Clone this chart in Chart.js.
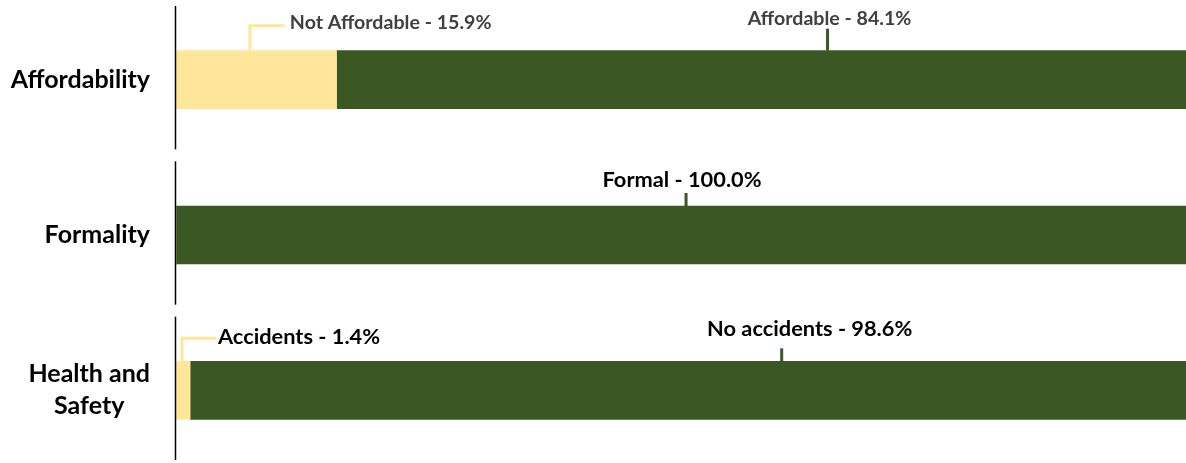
<!DOCTYPE html>
<html>
<head>
<meta charset="utf-8">
<script src="https://cdn.jsdelivr.net/npm/chart.js@4.4.1/dist/chart.umd.min.js"></script>
<style>
  html,body{margin:0;padding:0;background:#fff;overflow:hidden;}
  #wrap{width:1186px;height:470px;}
</style>
</head>
<body>
<div id="wrap"><canvas id="myChart" width="1186" height="470"></canvas></div>
<script>
// data
var categories = [['Affordability'], ['Formality'], ['Health and', 'Safety']];
var lowValues = [15.9, 0, 1.4];
var highValues = [84.1, 100.0, 98.6];
var lowNames = ['Not Affordable', null, 'Accidents'];
var highNames = ['Affordable', 'Formal', 'No accidents'];

var YELLOW = '#FFE699';
var GREEN = '#3A5724';
var FONT = 'Lato, "Open Sans", sans-serif';

// label placement (fraction along its segment), text shift, size and colour per row
var lowLabelAt = [0.46, 0, 0.45];
var highLabelAt = [0.578, 0.505, 0.594];
var highTextShift = [2, -4, 28];
var labelSize = [19.6, 21.8, 21.8];
var labelColor = ['#404040', '#000000', '#000000'];

var decor = {
  id: 'decor',
  afterDatasetsDraw: function(chart) {
    var ctx = chart.ctx;
    var area = chart.chartArea;
    var x = chart.scales.x, y = chart.scales.y;
    var slot = (area.bottom - area.top) / categories.length;
    ctx.save();

    // broken axis line, one piece per category
    ctx.strokeStyle = '#000';
    ctx.lineWidth = 1.5;
    for (var i = 0; i < categories.length; i++) {
      var top = area.top + slot * i;
      ctx.beginPath();
      ctx.moveTo(area.left - 0.5, top + 4);
      ctx.lineTo(area.left - 0.5, top + slot - 8);
      ctx.stroke();
    }

    // category names
    ctx.font = 'bold 25px ' + FONT;
    ctx.fillStyle = '#000';
    ctx.textAlign = 'center';
    ctx.textBaseline = 'middle';
    categories.forEach(function(lines, i) {
      var cy = y.getPixelForValue(i);
      var w = Math.max.apply(null, lines.map(function(s){ return ctx.measureText(s).width; }));
      var cx = 150 - w / 2;
      lines.forEach(function(s, k) {
        ctx.fillText(s, cx, cy + (k - (lines.length - 1) / 2) * 32);
      });
    });

    // data labels with leader lines
    ctx.textBaseline = 'middle';
    ctx.lineWidth = 3;
    for (var i = 0; i < categories.length; i++) {
      var bt = y.getPixelForValue(i) - 29;
      var small = lowValues[i] < 5;
      ctx.font = 'bold ' + labelSize[i] + 'px ' + FONT;
      if (lowNames[i] && lowValues[i] > 0) {
        var lx = small ? x.getPixelForValue(0) + 6 : x.getPixelForValue(lowValues[i] * lowLabelAt[i]);
        var ly = small ? bt - 23 : bt - 25;
        ctx.strokeStyle = YELLOW;
        ctx.beginPath();
        ctx.moveTo(lx, bt);
        ctx.lineTo(lx, ly);
        ctx.lineTo(lx + (small ? 34 : 35), ly);
        ctx.stroke();
        ctx.fillStyle = labelColor[i];
        ctx.textAlign = 'left';
        ctx.fillText(lowNames[i] + ' - ' + lowValues[i].toFixed(1) + '%', lx + (small ? 36 : 40), ly - (small ? 1 : 3));
      }
      var hx = x.getPixelForValue(lowValues[i] + highValues[i] * highLabelAt[i]);
      var hTop = i === 0 ? bt - 22 : bt - 13;
      ctx.strokeStyle = GREEN;
      ctx.beginPath();
      ctx.moveTo(hx, bt);
      ctx.lineTo(hx, hTop);
      ctx.stroke();
      ctx.fillStyle = labelColor[i];
      ctx.textAlign = 'center';
      var hy = i === 0 ? bt - 32 : (i === 1 ? bt - 26 : bt - 32);
      ctx.fillText(highNames[i] + ' - ' + highValues[i].toFixed(1) + '%', hx + highTextShift[i], hy);
    }
    ctx.restore();
  }
};

var ctx = document.getElementById('myChart');
var myChart = new Chart(ctx, {
  type: 'bar',
  data: {
    labels: categories,
    datasets: [
      { label: 'low', data: lowValues, backgroundColor: YELLOW, barThickness: 58 },
      { label: 'high', data: highValues, backgroundColor: GREEN, barThickness: 58 }
    ]
  },
  options: {
    indexAxis: 'y',
    responsive: false,
    animation: false,
    layout: { padding: { left: 176, right: 0, top: 2, bottom: 2 } },
    plugins: { legend: { display: false }, tooltip: { enabled: false } },
    scales: {
      x: { stacked: true, min: 0, max: 100, display: false },
      y: { stacked: true, display: false }
    }
  },
  plugins: [decor]
});
</script>
</body>
</html>
